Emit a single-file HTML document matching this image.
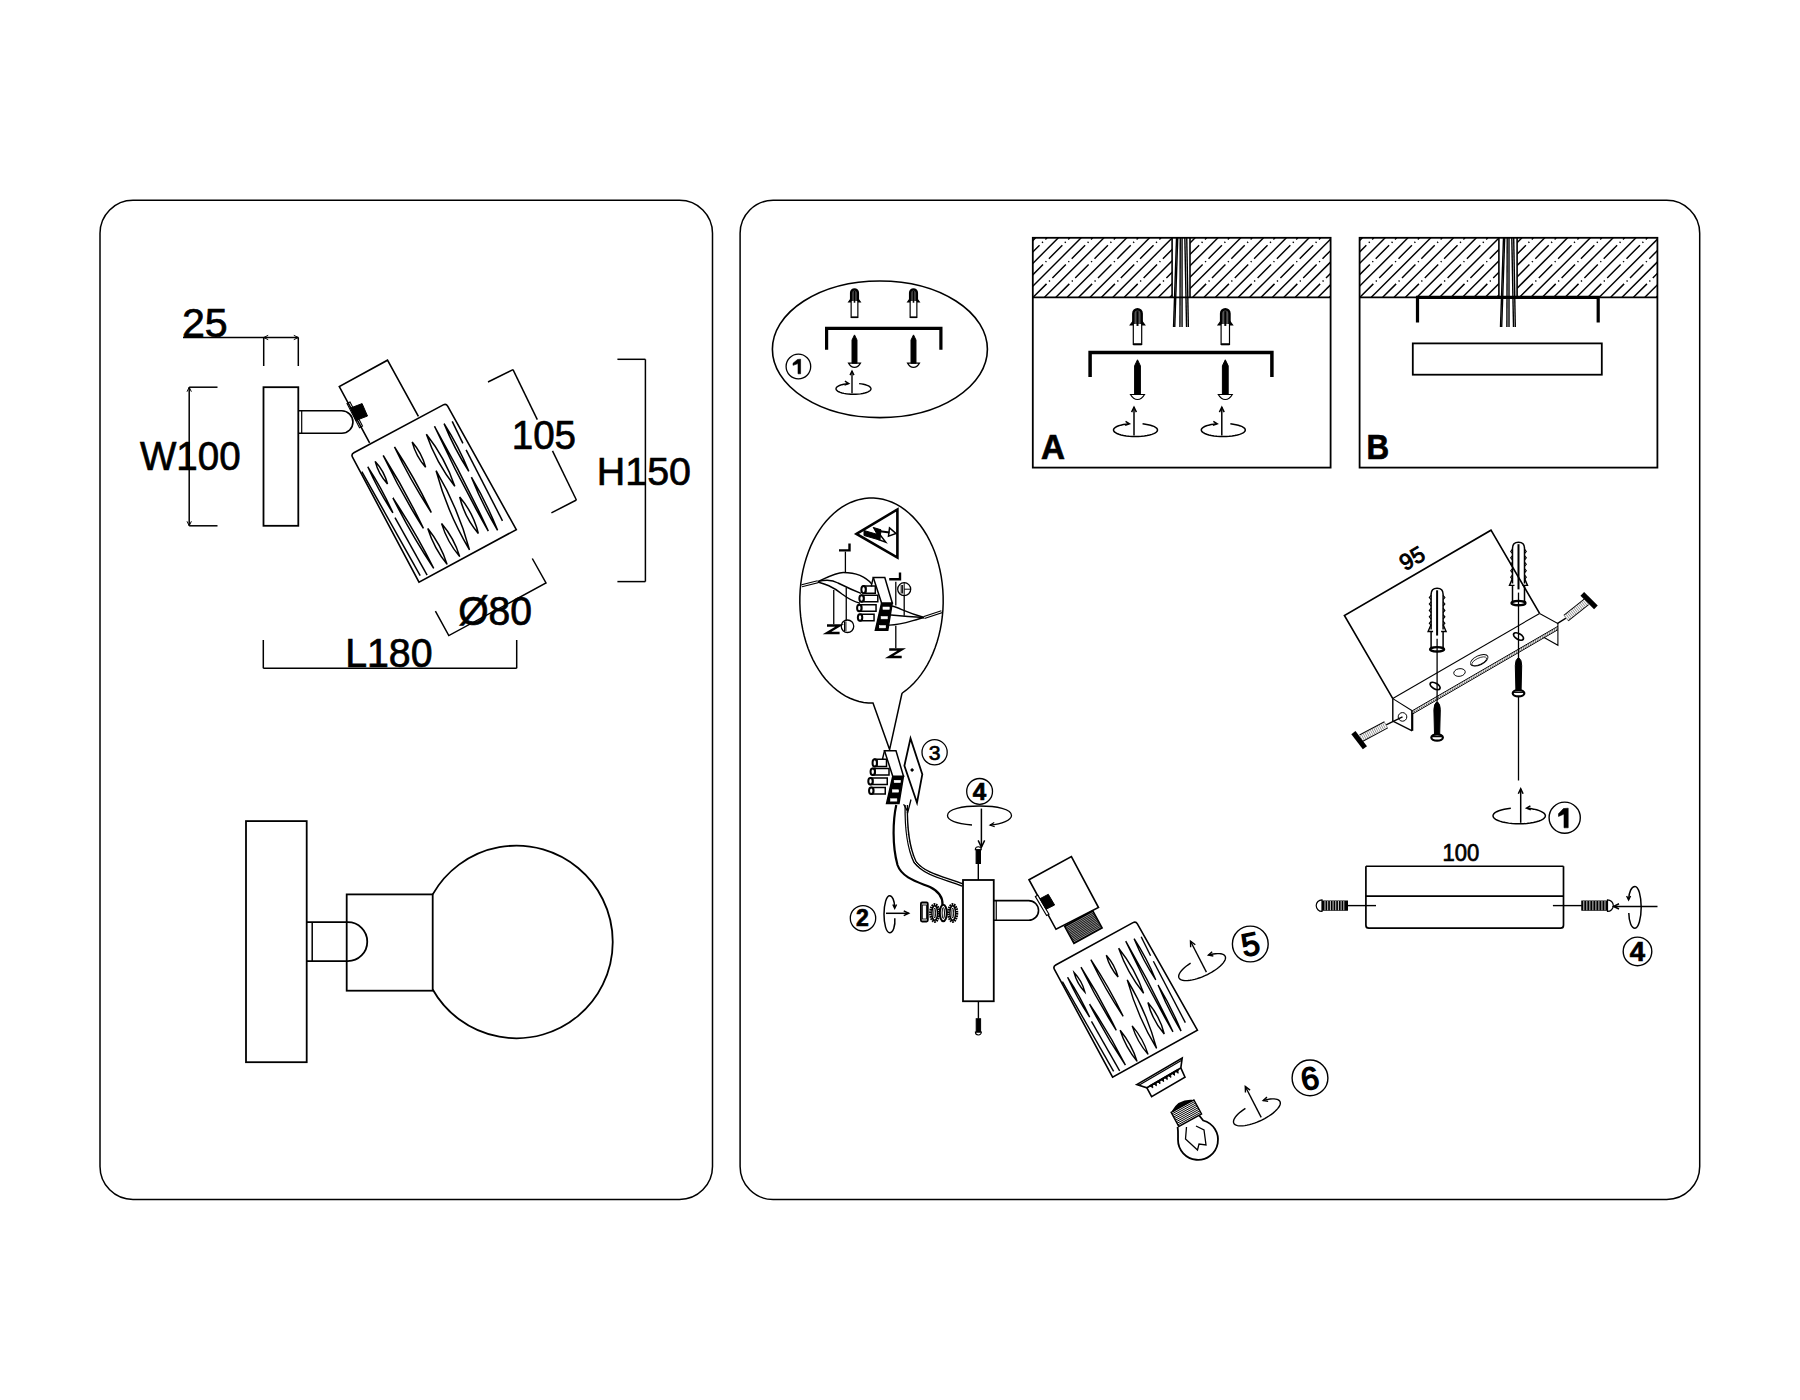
<!DOCTYPE html>
<html><head><meta charset="utf-8"><style>
html,body{margin:0;padding:0;background:#fff;}
body{width:1800px;height:1400px;overflow:hidden;}
svg{display:block;font-family:"Liberation Sans",sans-serif;}
</style></head><body>
<svg width="1800" height="1400" viewBox="0 0 1800 1400" stroke="#000" fill="none" stroke-linecap="butt" stroke-linejoin="miter">
<rect x="100" y="200.3" width="612.5" height="999.2" rx="33" stroke-width="1.5" fill="none" />
<rect x="740.1" y="200.3" width="959.6" height="999.2" rx="33" stroke-width="1.5" fill="none" />
<line x1="183" y1="337.5" x2="298.3" y2="337.5" stroke-width="1.5" />
<line x1="263.7" y1="337.5" x2="263.7" y2="366" stroke-width="1.5" />
<line x1="298.3" y1="337.5" x2="298.3" y2="366" stroke-width="1.5" />
<path d="M268.2,335.33 L263.7,337.5 L268.2,339.67" stroke-width="1" fill="none" />
<path d="M293.8,339.67 L298.3,337.5 L293.8,335.33" stroke-width="1" fill="none" />
<text x="0" y="0" font-family="Liberation Sans" font-size="100" font-weight="normal" stroke="#000" stroke-width="1.714" fill="#000" transform="matrix(0.4118,0,0,0.4085,181.94,336.59)">25</text>
<line x1="189.2" y1="387.2" x2="189.2" y2="525.8" stroke-width="1.5" />
<line x1="189.2" y1="387.2" x2="217.5" y2="387.2" stroke-width="1.5" />
<line x1="189.2" y1="525.8" x2="217.5" y2="525.8" stroke-width="1.5" />
<path d="M191.37,391.7 L189.2,387.2 L187.03,391.7" stroke-width="1" fill="none" />
<path d="M187.03,521.3 L189.2,525.8 L191.37,521.3" stroke-width="1" fill="none" />
<text x="0" y="0" font-family="Liberation Sans" font-size="100" font-weight="normal" stroke="#000" stroke-width="1.726" fill="#000" transform="matrix(0.3855,0,0,0.4056,139.91,470.39)">W100</text>
<rect x="263.5" y="387.2" width="34.8" height="138.6" rx="0" stroke-width="1.8" fill="none" />
<path d="M298.3,410.8 H341.7 A11.25,11.25 0 0 1 341.7,433.3 H298.3" stroke-width="1.6" fill="none" />
<line x1="301.7" y1="410.8" x2="301.7" y2="433.3" stroke-width="1.2" />
<polyline points="369.6,442.9 339.3,386.6 387.5,360.2 418.4,416.4" stroke-width="1.6" fill="none" />
<path d="M352.5,457.13 Q351,454.3 353.82,452.79 L443.28,404.91 Q446.1,403.4 447.66,406.2 L516.3,529.6 L419,582.2 Z" stroke-width="1.6" fill="#fff" />
<line x1="361.8" y1="471.6" x2="420.2" y2="575.6" stroke-width="1.5" />
<path d="M367.8,466.8 Q378.51,490.85 392.9,512.9 Q382.19,488.85 367.8,466.8Z" stroke-width="1.5" fill="none" />
<path d="M375.2,461.4 Q378.45,474.23 387.5,483.9 Q384.25,471.07 375.2,461.4Z" stroke-width="1.5" fill="none" />
<path d="M383.2,455.5 Q401.11,493.16 423.4,528.4 Q405.49,490.74 383.2,455.5Z" stroke-width="1.5" fill="none" />
<path d="M394.5,447 Q410.72,480.97 431.3,512.5 Q415.08,478.53 394.5,447Z" stroke-width="1.5" fill="none" />
<path d="M412.2,442.1 Q415.99,456.25 425.6,467.3 Q421.81,453.15 412.2,442.1Z" stroke-width="1.5" fill="none" />
<path d="M426.4,434.3 Q436.12,462.74 454.8,486.3 Q445.08,457.86 426.4,434.3Z" stroke-width="1.5" fill="none" />
<path d="M436.1,470.7 Q447.36,512.59 469.5,549.9 Q458.24,508.01 436.1,470.7Z" stroke-width="1.5" fill="none" />
<path d="M392.9,497.9 Q411.14,534.4 433.7,568.4 Q415.46,531.9 392.9,497.9Z" stroke-width="1.5" fill="none" />
<line x1="395" y1="517.7" x2="427.1" y2="575.1" stroke-width="1.5" />
<path d="M427.8,528.5 Q434.01,548.3 447.1,564.4 Q440.89,544.6 427.8,528.5Z" stroke-width="1.5" fill="none" />
<path d="M434.5,426.3 Q459.18,479.84 488.3,531.1 Q463.62,477.56 434.5,426.3Z" stroke-width="1.5" fill="none" />
<path d="M444.1,423.6 Q454.23,448.6 468.8,471.3 Q458.67,446.3 444.1,423.6Z" stroke-width="1.5" fill="none" />
<line x1="452.2" y1="421.4" x2="462.9" y2="443.4" stroke-width="1.5" />
<line x1="466.1" y1="449.8" x2="502.5" y2="520.8" stroke-width="1.5" />
<path d="M471.4,477.2 Q482.44,504.77 497.6,530.3 Q486.56,502.73 471.4,477.2Z" stroke-width="1.5" fill="none" />
<path d="M459.7,497 Q464.64,517.43 478.3,533.4 Q473.36,512.97 459.7,497Z" stroke-width="1.5" fill="none" />
<path d="M441.6,523.6 Q447.23,541.98 459.7,556.6 Q454.07,538.22 441.6,523.6Z" stroke-width="1.5" fill="none" />
<path d="M350.5,408 L362.1,403.6 L367.5,416 L355.9,420.5 Z" stroke-width="1" fill="#000" />
<polygon points="347,403.6 350,402 362.5,426 359.5,427.7" stroke-width="1.1" fill="none" />
<line x1="488" y1="382" x2="513" y2="369.6" stroke-width="1.5" />
<line x1="513" y1="369.6" x2="537.3" y2="419.6" stroke-width="1.5" />
<line x1="552.5" y1="450.9" x2="576.4" y2="500" stroke-width="1.5" />
<line x1="576.4" y1="500" x2="551.4" y2="512.9" stroke-width="1.5" />
<text x="0" y="0" font-family="Liberation Sans" font-size="100" font-weight="normal" stroke="#000" stroke-width="1.744" fill="#000" transform="matrix(0.3858,0,0,0.4014,511.71,448.60)">105</text>
<line x1="645.4" y1="359.3" x2="645.4" y2="581.6" stroke-width="1.5" />
<line x1="617.4" y1="359.3" x2="645.4" y2="359.3" stroke-width="1.5" />
<line x1="617.4" y1="581.6" x2="645.4" y2="581.6" stroke-width="1.5" />
<text x="0" y="0" font-family="Liberation Sans" font-size="100" font-weight="normal" stroke="#000" stroke-width="1.762" fill="#000" transform="matrix(0.3938,0,0,0.3972,596.85,484.80)">H150</text>
<polyline points="435.4,611.2 448.8,635.6 546,583 532.3,558.5" stroke-width="1.5" fill="none" />
<text x="0" y="0" font-family="Liberation Sans" font-size="100" font-weight="normal" stroke="#000" stroke-width="1.756" fill="#000" transform="matrix(0.3906,0,0,0.3986,458.24,624.50)">Ø80</text>
<line x1="263.3" y1="668.3" x2="516.7" y2="668.3" stroke-width="1.5" />
<line x1="263.3" y1="640" x2="263.3" y2="668.3" stroke-width="1.5" />
<line x1="516.7" y1="640" x2="516.7" y2="668.3" stroke-width="1.5" />
<text x="0" y="0" font-family="Liberation Sans" font-size="100" font-weight="normal" stroke="#000" stroke-width="1.756" fill="#000" transform="matrix(0.3929,0,0,0.3986,345.16,667.10)">L180</text>
<rect x="246" y="821.1" width="60.7" height="241.1" rx="0" stroke-width="1.8" fill="none" />
<path d="M432.7,894.4 A96.3,96.3 0 1 1 432.7,989.5" stroke-width="1.8" fill="none" />
<rect x="346.7" y="894.4" width="86" height="96.3" rx="0" stroke-width="1.8" fill="none" />
<path d="M306.7,922.2 H347.8 A19.45,19.45 0 0 1 347.8,961.1 H306.7" stroke-width="1.8" fill="none" />
<line x1="312.2" y1="922.2" x2="312.2" y2="961.1" stroke-width="1.5" />
<ellipse cx="879.9" cy="349.3" rx="107.5" ry="68.3" stroke-width="1.6" fill="none" />
<path d="M826.6,349.8 V328.4 H940.9 V349.8" stroke-width="3.2" fill="none" />
<path d="M851.14,301.12 V317.3 H857.86 V301.12" stroke-width="1.2" fill="none" />
<line x1="851.14" y1="317.3" x2="857.86" y2="317.3" stroke-width="1.6" />
<path d="M851.14,301.12 V292.76 A3.36,3.36 0 0 1 857.86,292.76 V301.12" stroke-width="2.4" fill="#555" />
<line x1="854.5" y1="291" x2="854.5" y2="302.72" stroke-width="1.6" />
<path d="M851.14,298.72 L848.74,301.92 L851.14,301.92" stroke-width="1.2" fill="#000" />
<path d="M857.86,298.72 L860.26,301.92 L857.86,301.92" stroke-width="1.2" fill="#000" />
<path d="M854.5,334.9 L856.97,340 V363.15 H852.03 V340 Z" stroke-width="1.0" fill="#000" />
<path d="M848.55,363.15 H860.45 Q858.07,367.4 854.5,367.4 Q850.93,367.4 848.55,363.15 Z" stroke-width="1.2" fill="none" />
<path d="M910.14,301.12 V317.3 H916.86 V301.12" stroke-width="1.2" fill="none" />
<line x1="910.14" y1="317.3" x2="916.86" y2="317.3" stroke-width="1.6" />
<path d="M910.14,301.12 V292.76 A3.36,3.36 0 0 1 916.86,292.76 V301.12" stroke-width="2.4" fill="#555" />
<line x1="913.5" y1="291" x2="913.5" y2="302.72" stroke-width="1.6" />
<path d="M910.14,298.72 L907.74,301.92 L910.14,301.92" stroke-width="1.2" fill="#000" />
<path d="M916.86,298.72 L919.26,301.92 L916.86,301.92" stroke-width="1.2" fill="#000" />
<path d="M913.5,334.9 L915.97,340 V363.15 H911.03 V340 Z" stroke-width="1.0" fill="#000" />
<path d="M907.55,363.15 H919.45 Q917.07,367.4 913.5,367.4 Q909.93,367.4 907.55,363.15 Z" stroke-width="1.2" fill="none" />
<circle cx="798.4" cy="366.5" r="12.3" stroke-width="1.3" fill="none" />
<polygon points="800.6,359.2 800.6,373.8 798,373.8 798,363.58 793,365.33 793,363.29 797.5,359.49" stroke-width="0.6" fill="#000" />
<polyline points="859.1,383.59 861.38,383.89 863.5,384.29 865.42,384.77 867.11,385.34 868.52,385.98 869.64,386.67 870.43,387.41 870.89,388.17 870.99,388.95 870.75,389.72 870.17,390.47 869.25,391.2 868.02,391.87 866.5,392.48 864.72,393.02 862.72,393.48 860.53,393.84 858.2,394.1 855.78,394.25 853.32,394.3 850.85,394.24 848.44,394.07 846.13,393.79 843.97,393.41 842,392.95 840.26,392.39 838.78,391.77 837.59,391.09 836.72,390.36 836.19,389.61 836,388.83 836.16,388.06 836.67,387.3 837.51,386.57 838.67,385.88 840.12,385.25 841.85,384.7 843.8,384.22 845.95,383.84 848.25,383.55" stroke-width="1.4" fill="none" />
<path d="M844.52,385.1 L848.75,383.55 L844.91,381.2" stroke-width="1.4" fill="none" />
<line x1="852" y1="393.3" x2="852" y2="371.1" stroke-width="1.4" />
<path d="M853.96,375.15 L852,371.1 L850.04,375.15" stroke-width="1.4" fill="none" />
<rect x="1032.8" y="237.8" width="297.8" height="229.8" rx="0" stroke-width="1.8" fill="none" />
<clipPath id="ca"><path d="M1032.8,237.8 H1172.1 V297.3 H1032.8 Z M1190,237.8 H1330.6 V297.3 H1190 Z"/></clipPath>
<g clip-path="url(#ca)"><line x1="953.3" y1="297.3" x2="1012.8" y2="237.8" stroke-width="1.45"/><line x1="964.7" y1="297.3" x2="1024.2" y2="237.8" stroke-width="1.45" stroke-dasharray="19 3.5 1.3 3.5"/><line x1="976.1" y1="297.3" x2="1035.6" y2="237.8" stroke-width="1.45"/><line x1="987.5" y1="297.3" x2="1047" y2="237.8" stroke-width="1.45" stroke-dasharray="19 3.5 1.3 3.5"/><line x1="998.9" y1="297.3" x2="1058.4" y2="237.8" stroke-width="1.45"/><line x1="1010.3" y1="297.3" x2="1069.8" y2="237.8" stroke-width="1.45" stroke-dasharray="19 3.5 1.3 3.5"/><line x1="1021.7" y1="297.3" x2="1081.2" y2="237.8" stroke-width="1.45"/><line x1="1033.1" y1="297.3" x2="1092.6" y2="237.8" stroke-width="1.45" stroke-dasharray="19 3.5 1.3 3.5"/><line x1="1044.5" y1="297.3" x2="1104" y2="237.8" stroke-width="1.45"/><line x1="1055.9" y1="297.3" x2="1115.4" y2="237.8" stroke-width="1.45" stroke-dasharray="19 3.5 1.3 3.5"/><line x1="1067.3" y1="297.3" x2="1126.8" y2="237.8" stroke-width="1.45"/><line x1="1078.7" y1="297.3" x2="1138.2" y2="237.8" stroke-width="1.45" stroke-dasharray="19 3.5 1.3 3.5"/><line x1="1090.1" y1="297.3" x2="1149.6" y2="237.8" stroke-width="1.45"/><line x1="1101.5" y1="297.3" x2="1161" y2="237.8" stroke-width="1.45" stroke-dasharray="19 3.5 1.3 3.5"/><line x1="1112.9" y1="297.3" x2="1172.4" y2="237.8" stroke-width="1.45"/><line x1="1124.3" y1="297.3" x2="1183.8" y2="237.8" stroke-width="1.45" stroke-dasharray="19 3.5 1.3 3.5"/><line x1="1135.7" y1="297.3" x2="1195.2" y2="237.8" stroke-width="1.45"/><line x1="1147.1" y1="297.3" x2="1206.6" y2="237.8" stroke-width="1.45" stroke-dasharray="19 3.5 1.3 3.5"/><line x1="1158.5" y1="297.3" x2="1218" y2="237.8" stroke-width="1.45"/><line x1="1169.9" y1="297.3" x2="1229.4" y2="237.8" stroke-width="1.45" stroke-dasharray="19 3.5 1.3 3.5"/><line x1="1181.3" y1="297.3" x2="1240.8" y2="237.8" stroke-width="1.45"/><line x1="1192.7" y1="297.3" x2="1252.2" y2="237.8" stroke-width="1.45" stroke-dasharray="19 3.5 1.3 3.5"/><line x1="1204.1" y1="297.3" x2="1263.6" y2="237.8" stroke-width="1.45"/><line x1="1215.5" y1="297.3" x2="1275" y2="237.8" stroke-width="1.45" stroke-dasharray="19 3.5 1.3 3.5"/><line x1="1226.9" y1="297.3" x2="1286.4" y2="237.8" stroke-width="1.45"/><line x1="1238.3" y1="297.3" x2="1297.8" y2="237.8" stroke-width="1.45" stroke-dasharray="19 3.5 1.3 3.5"/><line x1="1249.7" y1="297.3" x2="1309.2" y2="237.8" stroke-width="1.45"/><line x1="1261.1" y1="297.3" x2="1320.6" y2="237.8" stroke-width="1.45" stroke-dasharray="19 3.5 1.3 3.5"/><line x1="1272.5" y1="297.3" x2="1332" y2="237.8" stroke-width="1.45"/><line x1="1283.9" y1="297.3" x2="1343.4" y2="237.8" stroke-width="1.45" stroke-dasharray="19 3.5 1.3 3.5"/><line x1="1295.3" y1="297.3" x2="1354.8" y2="237.8" stroke-width="1.45"/><line x1="1306.7" y1="297.3" x2="1366.2" y2="237.8" stroke-width="1.45" stroke-dasharray="19 3.5 1.3 3.5"/><line x1="1318.1" y1="297.3" x2="1377.6" y2="237.8" stroke-width="1.45"/><line x1="1329.5" y1="297.3" x2="1389" y2="237.8" stroke-width="1.45" stroke-dasharray="19 3.5 1.3 3.5"/><line x1="1340.9" y1="297.3" x2="1400.4" y2="237.8" stroke-width="1.45"/></g>
<line x1="1172.1" y1="237.8" x2="1172.1" y2="297.3" stroke-width="1.6" />
<line x1="1190" y1="237.8" x2="1190" y2="297.3" stroke-width="1.6" />
<line x1="1032.8" y1="297.3" x2="1330.6" y2="297.3" stroke-width="1.8" />
<line x1="1176.55" y1="237.8" x2="1173.55" y2="327" stroke-width="1.4" />
<line x1="1177.75" y1="237.8" x2="1174.75" y2="327" stroke-width="1.4" />
<line x1="1180.25" y1="237.8" x2="1179.95" y2="327" stroke-width="1.4" />
<line x1="1182.05" y1="237.8" x2="1182.05" y2="327" stroke-width="1.4" />
<line x1="1184.85" y1="237.8" x2="1186.55" y2="327" stroke-width="1.4" />
<line x1="1186.75" y1="237.8" x2="1188.35" y2="327" stroke-width="1.4" />
<path d="M1090.1,377.1 V352.5 H1271.9 V377.1" stroke-width="3.5" fill="none" />
<path d="M1133.3,323.94 V344.3 H1141.7 V323.94" stroke-width="1.2" fill="none" />
<line x1="1133.3" y1="344.3" x2="1141.7" y2="344.3" stroke-width="2.0" />
<path d="M1133.3,323.94 V313.4 A4.2,4.2 0 0 1 1141.7,313.4 V323.94" stroke-width="2.4" fill="#555" />
<line x1="1137.5" y1="311.2" x2="1137.5" y2="325.94" stroke-width="2.0" />
<path d="M1133.3,320.94 L1130.3,324.94 L1133.3,324.94" stroke-width="1.2" fill="#000" />
<path d="M1141.7,320.94 L1144.7,324.94 L1141.7,324.94" stroke-width="1.2" fill="#000" />
<path d="M1137.5,359.8 L1140.4,365.8 V394.5 H1134.6 V365.8 Z" stroke-width="1.0" fill="#000" />
<path d="M1130.5,394.5 H1144.5 Q1141.7,399.5 1137.5,399.5 Q1133.3,399.5 1130.5,394.5 Z" stroke-width="1.2" fill="none" />
<polyline points="1142.54,423.84 1145.41,424.2 1148.07,424.67 1150.49,425.24 1152.61,425.91 1154.39,426.67 1155.79,427.49 1156.78,428.36 1157.36,429.26 1157.49,430.17 1157.19,431.09 1156.46,431.98 1155.3,432.83 1153.76,433.63 1151.84,434.35 1149.61,434.99 1147.09,435.53 1144.34,435.95 1141.41,436.26 1138.37,436.44 1135.27,436.5 1132.17,436.43 1129.14,436.22 1126.24,435.9 1123.52,435.45 1121.04,434.9 1118.85,434.25 1116.99,433.51 1115.5,432.71 1114.41,431.85 1113.74,430.95 1113.5,430.04 1113.7,429.12 1114.34,428.22 1115.4,427.36 1116.85,426.55 1118.69,425.81 1120.85,425.15 1123.31,424.59 1126.01,424.14 1128.9,423.8" stroke-width="1.5" fill="none" />
<path d="M1125.17,425.34 L1129.4,423.8 L1125.56,421.45" stroke-width="1.5" fill="none" />
<line x1="1134" y1="435.5" x2="1134" y2="407.1" stroke-width="1.5" />
<path d="M1136.39,412.05 L1134,407.1 L1131.61,412.05" stroke-width="1.5" fill="none" />
<path d="M1221.1,323.94 V344.3 H1229.5 V323.94" stroke-width="1.2" fill="none" />
<line x1="1221.1" y1="344.3" x2="1229.5" y2="344.3" stroke-width="2.0" />
<path d="M1221.1,323.94 V313.4 A4.2,4.2 0 0 1 1229.5,313.4 V323.94" stroke-width="2.4" fill="#555" />
<line x1="1225.3" y1="311.2" x2="1225.3" y2="325.94" stroke-width="2.0" />
<path d="M1221.1,320.94 L1218.1,324.94 L1221.1,324.94" stroke-width="1.2" fill="#000" />
<path d="M1229.5,320.94 L1232.5,324.94 L1229.5,324.94" stroke-width="1.2" fill="#000" />
<path d="M1225.3,359.8 L1228.2,365.8 V394.5 H1222.4 V365.8 Z" stroke-width="1.0" fill="#000" />
<path d="M1218.3,394.5 H1232.3 Q1229.5,399.5 1225.3,399.5 Q1221.1,399.5 1218.3,394.5 Z" stroke-width="1.2" fill="none" />
<polyline points="1230.34,423.84 1233.21,424.2 1235.87,424.67 1238.29,425.24 1240.41,425.91 1242.19,426.67 1243.59,427.49 1244.58,428.36 1245.16,429.26 1245.29,430.17 1244.99,431.09 1244.26,431.98 1243.1,432.83 1241.56,433.63 1239.64,434.35 1237.41,434.99 1234.89,435.53 1232.14,435.95 1229.21,436.26 1226.17,436.44 1223.07,436.5 1219.97,436.43 1216.94,436.22 1214.04,435.9 1211.32,435.45 1208.84,434.9 1206.65,434.25 1204.79,433.51 1203.3,432.71 1202.21,431.85 1201.54,430.95 1201.3,430.04 1201.5,429.12 1202.14,428.22 1203.2,427.36 1204.65,426.55 1206.49,425.81 1208.65,425.15 1211.11,424.59 1213.81,424.14 1216.7,423.8" stroke-width="1.5" fill="none" />
<path d="M1212.97,425.34 L1217.2,423.8 L1213.36,421.45" stroke-width="1.5" fill="none" />
<line x1="1221.8" y1="435.5" x2="1221.8" y2="407.1" stroke-width="1.5" />
<path d="M1224.19,412.05 L1221.8,407.1 L1219.41,412.05" stroke-width="1.5" fill="none" />
<text x="0" y="0" font-family="Liberation Sans" font-size="100" font-weight="bold" stroke="#000" stroke-width="1.983" fill="#000" transform="matrix(0.3318,0,0,0.3529,1041.00,459.25)">A</text>
<rect x="1359.6" y="237.8" width="297.8" height="229.8" rx="0" stroke-width="1.8" fill="none" />
<clipPath id="cb"><path d="M1359.6,237.8 H1498.9 V297.3 H1359.6 Z M1517.1,237.8 H1657.4 V297.3 H1517.1 Z"/></clipPath>
<g clip-path="url(#cb)"><line x1="1280.1" y1="297.3" x2="1339.6" y2="237.8" stroke-width="1.45"/><line x1="1291.5" y1="297.3" x2="1351" y2="237.8" stroke-width="1.45" stroke-dasharray="19 3.5 1.3 3.5"/><line x1="1302.9" y1="297.3" x2="1362.4" y2="237.8" stroke-width="1.45"/><line x1="1314.3" y1="297.3" x2="1373.8" y2="237.8" stroke-width="1.45" stroke-dasharray="19 3.5 1.3 3.5"/><line x1="1325.7" y1="297.3" x2="1385.2" y2="237.8" stroke-width="1.45"/><line x1="1337.1" y1="297.3" x2="1396.6" y2="237.8" stroke-width="1.45" stroke-dasharray="19 3.5 1.3 3.5"/><line x1="1348.5" y1="297.3" x2="1408" y2="237.8" stroke-width="1.45"/><line x1="1359.9" y1="297.3" x2="1419.4" y2="237.8" stroke-width="1.45" stroke-dasharray="19 3.5 1.3 3.5"/><line x1="1371.3" y1="297.3" x2="1430.8" y2="237.8" stroke-width="1.45"/><line x1="1382.7" y1="297.3" x2="1442.2" y2="237.8" stroke-width="1.45" stroke-dasharray="19 3.5 1.3 3.5"/><line x1="1394.1" y1="297.3" x2="1453.6" y2="237.8" stroke-width="1.45"/><line x1="1405.5" y1="297.3" x2="1465" y2="237.8" stroke-width="1.45" stroke-dasharray="19 3.5 1.3 3.5"/><line x1="1416.9" y1="297.3" x2="1476.4" y2="237.8" stroke-width="1.45"/><line x1="1428.3" y1="297.3" x2="1487.8" y2="237.8" stroke-width="1.45" stroke-dasharray="19 3.5 1.3 3.5"/><line x1="1439.7" y1="297.3" x2="1499.2" y2="237.8" stroke-width="1.45"/><line x1="1451.1" y1="297.3" x2="1510.6" y2="237.8" stroke-width="1.45" stroke-dasharray="19 3.5 1.3 3.5"/><line x1="1462.5" y1="297.3" x2="1522" y2="237.8" stroke-width="1.45"/><line x1="1473.9" y1="297.3" x2="1533.4" y2="237.8" stroke-width="1.45" stroke-dasharray="19 3.5 1.3 3.5"/><line x1="1485.3" y1="297.3" x2="1544.8" y2="237.8" stroke-width="1.45"/><line x1="1496.7" y1="297.3" x2="1556.2" y2="237.8" stroke-width="1.45" stroke-dasharray="19 3.5 1.3 3.5"/><line x1="1508.1" y1="297.3" x2="1567.6" y2="237.8" stroke-width="1.45"/><line x1="1519.5" y1="297.3" x2="1579" y2="237.8" stroke-width="1.45" stroke-dasharray="19 3.5 1.3 3.5"/><line x1="1530.9" y1="297.3" x2="1590.4" y2="237.8" stroke-width="1.45"/><line x1="1542.3" y1="297.3" x2="1601.8" y2="237.8" stroke-width="1.45" stroke-dasharray="19 3.5 1.3 3.5"/><line x1="1553.7" y1="297.3" x2="1613.2" y2="237.8" stroke-width="1.45"/><line x1="1565.1" y1="297.3" x2="1624.6" y2="237.8" stroke-width="1.45" stroke-dasharray="19 3.5 1.3 3.5"/><line x1="1576.5" y1="297.3" x2="1636" y2="237.8" stroke-width="1.45"/><line x1="1587.9" y1="297.3" x2="1647.4" y2="237.8" stroke-width="1.45" stroke-dasharray="19 3.5 1.3 3.5"/><line x1="1599.3" y1="297.3" x2="1658.8" y2="237.8" stroke-width="1.45"/><line x1="1610.7" y1="297.3" x2="1670.2" y2="237.8" stroke-width="1.45" stroke-dasharray="19 3.5 1.3 3.5"/><line x1="1622.1" y1="297.3" x2="1681.6" y2="237.8" stroke-width="1.45"/><line x1="1633.5" y1="297.3" x2="1693" y2="237.8" stroke-width="1.45" stroke-dasharray="19 3.5 1.3 3.5"/><line x1="1644.9" y1="297.3" x2="1704.4" y2="237.8" stroke-width="1.45"/><line x1="1656.3" y1="297.3" x2="1715.8" y2="237.8" stroke-width="1.45" stroke-dasharray="19 3.5 1.3 3.5"/><line x1="1667.7" y1="297.3" x2="1727.2" y2="237.8" stroke-width="1.45"/></g>
<line x1="1498.9" y1="237.8" x2="1498.9" y2="297.3" stroke-width="1.6" />
<line x1="1517.1" y1="237.8" x2="1517.1" y2="297.3" stroke-width="1.6" />
<line x1="1359.6" y1="297.3" x2="1657.4" y2="297.3" stroke-width="1.8" />
<line x1="1503.5" y1="237.8" x2="1500.5" y2="327" stroke-width="1.4" />
<line x1="1504.7" y1="237.8" x2="1501.7" y2="327" stroke-width="1.4" />
<line x1="1507.2" y1="237.8" x2="1506.9" y2="327" stroke-width="1.4" />
<line x1="1509" y1="237.8" x2="1509" y2="327" stroke-width="1.4" />
<line x1="1511.8" y1="237.8" x2="1513.5" y2="327" stroke-width="1.4" />
<line x1="1513.7" y1="237.8" x2="1515.3" y2="327" stroke-width="1.4" />
<path d="M1417.5,322.4 V297.3 H1598.2 V322.4" stroke-width="3.2" fill="none" />
<rect x="1412.8" y="343.4" width="189" height="31.3" rx="0" stroke-width="1.8" fill="none" />
<text x="0" y="0" font-family="Liberation Sans" font-size="100" font-weight="bold" stroke="#000" stroke-width="2.012" fill="#000" transform="matrix(0.3131,0,0,0.3478,1366.51,458.90)">B</text>
<polyline points="902,693.26 906.16,690.23 910.17,686.81 914.02,683.03 917.69,678.89 921.17,674.43 924.43,669.65 927.46,664.57 930.26,659.23 932.81,653.63 935.1,647.81 937.13,641.79 938.87,635.59 940.32,629.25 941.49,622.78 942.35,616.22 942.92,609.59 943.18,602.92 943.14,596.24 942.79,589.58 942.14,582.97 941.2,576.43 939.95,570 938.42,563.69 936.6,557.54 934.5,551.57 932.14,545.81 929.52,540.28 926.65,535 923.55,530.01 920.23,525.31 916.7,520.94 912.98,516.9 909.09,513.21 905.03,509.9 900.83,506.97 896.51,504.44 892.08,502.31 887.57,500.61 882.98,499.32 878.35,498.47 873.69,498.05 869.02,498.06 864.35,498.51 859.72,499.39 855.14,500.7 850.63,502.44 846.21,504.59 841.89,507.15 837.71,510.1 833.66,513.44 829.77,517.15 826.07,521.21 822.55,525.6 819.24,530.32 816.16,535.33 813.31,540.62 810.7,546.17 808.36,551.94 806.28,557.92 804.48,564.09 802.96,570.4 801.74,576.85 800.81,583.39 800.18,590.01 799.85,596.67 799.83,603.35 800.11,610.01 800.69,616.64 801.58,623.2 802.76,629.66 804.24,635.99 806,642.18 808.03,648.19 810.34,654 812.91,659.58 815.72,664.91 818.77,669.96 822.05,674.72 825.54,679.17 829.22,683.28 833.08,687.04 837.1,690.43 841.27,693.44 845.57,696.06 849.98,698.27 854.48,700.07 859.05,701.44 863.67,702.39 868.33,702.9 873,702.98 889.6,749.6 902,693.26" stroke-width="1.5" fill="none" />
<polygon points="856.5,533.9 897.4,509.5 897.4,557.6" stroke-width="2.6" fill="none" />
<polygon points="856.5,533.9 897.4,509.5 897.4,557.6" stroke-width="0.1" fill="none" />
<path d="M864,530.5 L879.5,535 L879.5,540 L864,535.5 Z" stroke-width="1.0" fill="#000" />
<path d="M873.2,527.4 L881,529.8 L880,539.5 Z" stroke-width="1.0" fill="#000" />
<path d="M879.5,534 L885.8,542.3 L878.5,539.5" stroke-width="1.4" fill="none" />
<line x1="880" y1="531.2" x2="889.5" y2="532.5" stroke-width="2.0" />
<path d="M889.5,527.9 L896,533.4 L888.5,536.2 Z" stroke-width="1.5" fill="none" />
<path d="M801.7,585.8 L817.9,581.7" stroke-width="3.2" fill="none" />
<path d="M801.7,585.8 L817.9,581.7" stroke-width="1.0" fill="none" stroke="#fff"/>
<path d="M817.9,581.7 C828,577 836,572.5 843.3,572.5 C856,572.5 866,577 872,584.2" stroke-width="1.4" fill="none" />
<path d="M817.9,581.7 C824,580 831,579 838,583 C848,588 855,591 861,593.3" stroke-width="1.4" fill="none" />
<path d="M817.9,582 C825,584 832,586 842,594 C850,600 855,602 860,603.3" stroke-width="1.4" fill="none" />
<line x1="845.4" y1="551.6" x2="845.4" y2="572.5" stroke-width="1.3" />
<path d="M839,550.4 H849.5 V543.6" stroke-width="2.4" fill="none" />
<line x1="833.75" y1="590" x2="833.75" y2="624.2" stroke-width="1.3" />
<path d="M827,625.5 H839.6 L827,633 H839.6" stroke-width="2.4" fill="none" />
<line x1="846.25" y1="587.5" x2="846.25" y2="620" stroke-width="1.3" />
<circle cx="847.5" cy="626.25" r="6.25" stroke-width="1.3" fill="none" />
<line x1="844.5" y1="621.5" x2="844.5" y2="631" stroke-width="1.0" />
<line x1="845.9" y1="621.5" x2="845.9" y2="631" stroke-width="1.0" />
<polygon points="881.55,603 892.3,603 887.8,630.25 875.3,630.25" stroke-width="1.4" fill="#000" />
<rect x="882.94" y="607" width="6.4" height="2.4" rx="0" stroke-width="0.5" fill="#fff" stroke="#fff"/>
<rect x="881.07" y="616.5" width="6.4" height="2.4" rx="0" stroke-width="0.5" fill="#fff" stroke="#fff"/>
<rect x="879.29" y="625.5" width="6.4" height="2.4" rx="0" stroke-width="0.5" fill="#fff" stroke="#fff"/>
<rect x="863.55" y="586" width="11.75" height="7.25" rx="0" stroke-width="1.5" fill="#fff" />
<ellipse cx="863.55" cy="589.62" rx="2.2" ry="3.62" stroke-width="2.0" fill="#fff" />
<line x1="866.05" y1="586.5" x2="866.05" y2="592.75" stroke-width="1.0" />
<rect x="861.55" y="595.25" width="16.25" height="6.5" rx="0" stroke-width="1.5" fill="#fff" />
<ellipse cx="861.55" cy="598.5" rx="2.2" ry="3.25" stroke-width="2.0" fill="#fff" />
<line x1="864.05" y1="595.75" x2="864.05" y2="601.25" stroke-width="1.0" />
<rect x="859.3" y="604.75" width="16.75" height="6.5" rx="0" stroke-width="1.5" fill="#fff" />
<ellipse cx="859.3" cy="608" rx="2.2" ry="3.25" stroke-width="2.0" fill="#fff" />
<line x1="861.8" y1="605.25" x2="861.8" y2="610.75" stroke-width="1.0" />
<rect x="860.05" y="614.25" width="14" height="6.5" rx="0" stroke-width="1.5" fill="#fff" />
<ellipse cx="860.05" cy="617.5" rx="2.2" ry="3.25" stroke-width="2.0" fill="#fff" />
<line x1="862.55" y1="614.75" x2="862.55" y2="620.25" stroke-width="1.0" />
<polygon points="873.3,577.5 884.8,577.5 892.3,603 881.55,603" stroke-width="1.5" fill="#fff" />
<polyline points="873.3,577.5 871.3,585.75 872.3,586" stroke-width="1.4" fill="none" />
<path d="M892,606 C900,608 905,612 924.2,617.5" stroke-width="1.4" fill="none" />
<path d="M891,615 C900,616 910,617 924.2,617.5" stroke-width="1.4" fill="none" />
<path d="M887,625 C900,626 910,621 924.2,617.5" stroke-width="1.4" fill="none" />
<path d="M924.2,617.5 L941.7,611.7" stroke-width="3.2" fill="none" />
<path d="M924.2,617.5 L941.7,611.7" stroke-width="1.0" fill="none" stroke="#fff"/>
<line x1="895.8" y1="581.7" x2="895.8" y2="605.4" stroke-width="1.3" />
<path d="M889.2,579.2 H900 V572.5" stroke-width="2.4" fill="none" />
<line x1="904.2" y1="595.5" x2="904.2" y2="615.8" stroke-width="1.3" />
<circle cx="904.2" cy="589.2" r="6.5" stroke-width="1.3" fill="none" />
<line x1="904.2" y1="582.7" x2="904.2" y2="595.7" stroke-width="1.0" />
<line x1="904.2" y1="589.2" x2="910.7" y2="589.2" stroke-width="1.0" />
<line x1="901.2" y1="585" x2="901.2" y2="593.5" stroke-width="1.0" />
<line x1="902.6" y1="585" x2="902.6" y2="593.5" stroke-width="1.0" />
<line x1="895.8" y1="625.8" x2="895.8" y2="648.3" stroke-width="1.3" />
<path d="M889.2,649.5 H901.7 L889.2,657 H901.7" stroke-width="2.4" fill="none" />
<polygon points="892.75,776.25 903.5,776.25 899,803.5 886.5,803.5" stroke-width="1.4" fill="#000" />
<rect x="894.14" y="780.25" width="6.4" height="2.4" rx="0" stroke-width="0.5" fill="#fff" stroke="#fff"/>
<rect x="892.27" y="789.75" width="6.4" height="2.4" rx="0" stroke-width="0.5" fill="#fff" stroke="#fff"/>
<rect x="890.49" y="798.75" width="6.4" height="2.4" rx="0" stroke-width="0.5" fill="#fff" stroke="#fff"/>
<rect x="874.75" y="759.25" width="11.75" height="7.25" rx="0" stroke-width="1.5" fill="#fff" />
<ellipse cx="874.75" cy="762.88" rx="2.2" ry="3.62" stroke-width="2.0" fill="#fff" />
<line x1="877.25" y1="759.75" x2="877.25" y2="766" stroke-width="1.0" />
<rect x="872.75" y="768.5" width="16.25" height="6.5" rx="0" stroke-width="1.5" fill="#fff" />
<ellipse cx="872.75" cy="771.75" rx="2.2" ry="3.25" stroke-width="2.0" fill="#fff" />
<line x1="875.25" y1="769" x2="875.25" y2="774.5" stroke-width="1.0" />
<rect x="870.5" y="778" width="16.75" height="6.5" rx="0" stroke-width="1.5" fill="#fff" />
<ellipse cx="870.5" cy="781.25" rx="2.2" ry="3.25" stroke-width="2.0" fill="#fff" />
<line x1="873" y1="778.5" x2="873" y2="784" stroke-width="1.0" />
<rect x="871.25" y="787.5" width="14" height="6.5" rx="0" stroke-width="1.5" fill="#fff" />
<ellipse cx="871.25" cy="790.75" rx="2.2" ry="3.25" stroke-width="2.0" fill="#fff" />
<line x1="873.75" y1="788" x2="873.75" y2="793.5" stroke-width="1.0" />
<polygon points="884.5,750.75 896,750.75 903.5,776.25 892.75,776.25" stroke-width="1.5" fill="#fff" />
<polyline points="884.5,750.75 882.5,759 883.5,759.25" stroke-width="1.4" fill="none" />
<polygon points="910.5,738.4 922.3,774.3 917,802.7 904.4,765.7" stroke-width="1.8" fill="none" />
<circle cx="912.1" cy="770" r="1.2" stroke-width="1" fill="#000" />
<circle cx="934.6" cy="752.3" r="12.6" stroke-width="1.3" fill="none" />
<text x="0" y="0" font-family="Liberation Sans" font-size="100" font-weight="normal" stroke="#000" stroke-width="3.313" fill="#000" transform="matrix(0.2113,0,0,0.2113,928.79,759.59)">3</text>
<path d="M896.25,805 C893,820 892,845 897.5,865 C902,878 918,882 930,887 C940,892 943,898 942.5,905" stroke-width="2.2" fill="none" />
<path d="M906.25,805 C906,825 907,845 915,862 C925,875 945,878 962.5,885" stroke-width="3.6" fill="none" />
<path d="M906.25,805 C906,825 907,845 915,862 C925,875 945,878 962.5,885" stroke-width="1.0" fill="none" stroke="#fff"/>
<path d="M903.6,804.3 L907.9,811.8 L911,799.5" stroke-width="1.3" fill="none" />
<rect x="920.9" y="902.5" width="6.9" height="19" rx="1.2" stroke-width="1.8" fill="none" />
<rect x="922.3" y="905" width="4.1" height="14" rx="0" stroke-width="0.9" fill="#fff" />
<ellipse cx="934.7" cy="913" rx="4.3" ry="8.6" stroke-width="2.6" fill="none" stroke-dasharray="1.6 0.7"/>
<ellipse cx="934.7" cy="913" rx="2.8" ry="7.2" stroke-width="1.4" fill="none" />
<ellipse cx="934.7" cy="913" rx="0.9" ry="5" stroke-width="0.9" fill="none" />
<ellipse cx="952.7" cy="913" rx="4.3" ry="8.6" stroke-width="2.6" fill="none" stroke-dasharray="1.6 0.7"/>
<ellipse cx="952.7" cy="913" rx="2.8" ry="7.2" stroke-width="1.4" fill="none" />
<ellipse cx="952.7" cy="913" rx="0.9" ry="5" stroke-width="0.9" fill="none" />
<ellipse cx="943.3" cy="913" rx="3.5" ry="8.3" stroke-width="2.0" fill="none" />
<ellipse cx="943.3" cy="913" rx="1.2" ry="5.5" stroke-width="1.0" fill="none" />
<circle cx="863" cy="918.3" r="12.7" stroke-width="1.3" fill="none" />
<text x="0" y="0" font-family="Liberation Sans" font-size="100" font-weight="bold" stroke="#000" stroke-width="2.988" fill="#000" transform="matrix(0.2306,0,0,0.2343,856.01,925.70)">2</text>
<path d="M894.8,918.3 C895.5,926 893,932.7 889.7,932.7 C886.2,932.7 884,924 884,914.2 C884,904 886.5,895.7 889.7,895.7 C892.5,895.7 894.5,901 894.7,907" stroke-width="1.5" fill="none" />
<path d="M892.87,904.52 L894.7,908.3 L896.53,904.52" stroke-width="1.5" fill="none" />
<line x1="886" y1="913.3" x2="908.7" y2="913.3" stroke-width="1.5" />
<path d="M903.75,915.69 L908.7,913.3 L903.75,910.91" stroke-width="1.5" fill="none" />
<circle cx="979.6" cy="791.4" r="12.9" stroke-width="1.3" fill="none" />
<text x="0" y="0" font-family="Liberation Sans" font-size="100" font-weight="bold" stroke="#000" stroke-width="2.892" fill="#000" transform="matrix(0.2420,0,0,0.2420,972.70,799.75)">4</text>
<path d="M972,825 C950,823 947.5,818 947.5,815.5 C947.5,809 962,806 979.5,806 C997,806 1011.5,809 1011.5,815.5 C1011.5,820 1002,824 990,825" stroke-width="1.3" fill="none" />
<path d="M994.26,822.39 L990,825 L994.7,826.71" stroke-width="1.2" fill="none" />
<line x1="981.4" y1="808.6" x2="981.4" y2="847.2" stroke-width="1.5" />
<path d="M978.14,840.45 L981.4,847.2 L984.66,840.45" stroke-width="1.5" fill="none" />
<path d="M975.3,849.8 A3,3 0 0 1 981.3,849.8 Z" stroke-width="1.1" fill="none" />
<rect x="976.1" y="849.8" width="4.4" height="13.7" rx="0" stroke-width="1.0" fill="#000" />
<line x1="978.3" y1="863.5" x2="978.3" y2="880" stroke-width="1.4" />
<line x1="978.4" y1="1001.25" x2="978.4" y2="1018.75" stroke-width="1.4" />
<rect x="976.2" y="1018.75" width="4.4" height="13.25" rx="0" stroke-width="1.0" fill="#000" />
<path d="M975.4,1032 A3,3 0 0 0 981.4,1032 Z" stroke-width="1.1" fill="none" />
<rect x="963" y="880" width="30.75" height="121.25" rx="0" stroke-width="1.8" fill="none" />
<path d="M993.75,900.6 H1028.7 A9.85,9.85 0 0 1 1028.7,920.3 H993.75" stroke-width="1.6" fill="none" />
<line x1="996.25" y1="900.6" x2="996.25" y2="920.3" stroke-width="1.2" />
<polygon points="1029,879.7 1071.4,856.5 1098.5,907.5 1056,929.3" stroke-width="1.6" fill="#fff" />
<polygon points="1035.4,896.6 1037.8,895.3 1049,914.3 1046.6,915.6" stroke-width="1.1" fill="#fff" />
<path d="M1040,898.7 L1048.3,894.3 L1054.6,905 L1046,909.3 Z" stroke-width="1" fill="#000" />
<polygon points="1064.5,926.3 1092.83,910.8 1102.24,927.99 1073.91,943.49" stroke-width="1.4" fill="#000" />
<line x1="1066.01" y1="927.19" x2="1092.76" y2="912.55" stroke-width="0.55" stroke="#fff"/>
<line x1="1066.74" y1="928.51" x2="1093.49" y2="913.87" stroke-width="0.55" stroke="#fff"/>
<line x1="1067.46" y1="929.83" x2="1094.21" y2="915.19" stroke-width="0.55" stroke="#fff"/>
<line x1="1068.18" y1="931.16" x2="1094.93" y2="916.52" stroke-width="0.55" stroke="#fff"/>
<line x1="1068.91" y1="932.48" x2="1095.66" y2="917.84" stroke-width="0.55" stroke="#fff"/>
<line x1="1069.63" y1="933.8" x2="1096.38" y2="919.16" stroke-width="0.55" stroke="#fff"/>
<line x1="1070.36" y1="935.12" x2="1097.1" y2="920.48" stroke-width="0.55" stroke="#fff"/>
<line x1="1071.08" y1="936.45" x2="1097.83" y2="921.81" stroke-width="0.55" stroke="#fff"/>
<line x1="1071.8" y1="937.77" x2="1098.55" y2="923.13" stroke-width="0.55" stroke="#fff"/>
<line x1="1072.53" y1="939.09" x2="1099.27" y2="924.45" stroke-width="0.55" stroke="#fff"/>
<line x1="1073.25" y1="940.41" x2="1100" y2="925.77" stroke-width="0.55" stroke="#fff"/>
<line x1="1073.97" y1="941.73" x2="1100.72" y2="927.09" stroke-width="0.55" stroke="#fff"/>
<path d="M1054.42,969.42 Q1052.9,966.6 1055.71,965.06 L1132.99,922.64 Q1135.8,921.1 1137.37,923.89 L1197.42,1030.19 L1112.6,1077.2 Z" stroke-width="1.6" fill="#fff" />
<line x1="1062.37" y1="981.54" x2="1113.63" y2="1071.44" stroke-width="1.4" />
<path d="M1067.6,977.29 Q1077.01,998.1 1089.63,1017.14 Q1080.22,996.33 1067.6,977.29Z" stroke-width="1.4" fill="none" />
<path d="M1074.05,972.49 Q1076.93,983.62 1084.84,991.94 Q1081.97,980.82 1074.05,972.49Z" stroke-width="1.4" fill="none" />
<path d="M1081.02,967.25 Q1096.76,999.83 1116.3,1030.28 Q1100.56,997.7 1081.02,967.25Z" stroke-width="1.4" fill="none" />
<path d="M1090.86,959.71 Q1105.11,989.1 1123.16,1016.33 Q1108.91,986.94 1090.86,959.71Z" stroke-width="1.4" fill="none" />
<path d="M1106.3,955.23 Q1109.65,967.49 1118.07,977.02 Q1114.72,964.75 1106.3,955.23Z" stroke-width="1.4" fill="none" />
<path d="M1118.68,948.26 Q1127.25,972.9 1143.61,993.22 Q1135.04,968.58 1118.68,948.26Z" stroke-width="1.4" fill="none" />
<path d="M1127.24,979.85 Q1137.19,1016.18 1156.61,1048.45 Q1146.66,1012.12 1127.24,979.85Z" stroke-width="1.4" fill="none" />
<path d="M1089.59,1004.08 Q1105.61,1035.64 1125.4,1065 Q1109.38,1033.43 1089.59,1004.08Z" stroke-width="1.4" fill="none" />
<line x1="1091.48" y1="1021.3" x2="1119.65" y2="1070.92" stroke-width="1.4" />
<path d="M1120.14,1030.31 Q1125.63,1047.46 1137.09,1061.35 Q1131.61,1044.2 1120.14,1030.31Z" stroke-width="1.4" fill="none" />
<path d="M1125.73,941.19 Q1147.42,987.52 1172.97,1031.84 Q1151.29,985.51 1125.73,941.19Z" stroke-width="1.4" fill="none" />
<path d="M1134.11,938.72 Q1143.02,960.37 1155.79,979.98 Q1146.88,958.33 1134.11,938.72Z" stroke-width="1.4" fill="none" />
<line x1="1141.17" y1="936.71" x2="1150.57" y2="955.74" stroke-width="1.4" />
<line x1="1153.38" y1="961.28" x2="1185.35" y2="1022.69" stroke-width="1.4" />
<path d="M1158.08,985.09 Q1167.79,1008.96 1181.09,1031.03 Q1171.38,1007.16 1158.08,985.09Z" stroke-width="1.4" fill="none" />
<path d="M1147.92,1002.48 Q1152.28,1020.19 1164.25,1033.96 Q1159.88,1016.25 1147.92,1002.48Z" stroke-width="1.4" fill="none" />
<path d="M1132.18,1025.87 Q1137.15,1041.79 1148.07,1054.4 Q1143.1,1038.48 1132.18,1025.87Z" stroke-width="1.4" fill="none" />
<polygon points="1136.7,1084.6 1182.2,1058.1 1180.8,1067.9 1146.9,1087.8" stroke-width="1.6" fill="#fff" />
<line x1="1138.5" y1="1085.5" x2="1181.3" y2="1060.5" stroke-width="1.3" />
<polyline points="1146.9,1087.8 1151.6,1096.7 1185,1077.2 1180.8,1067.9" stroke-width="1.6" fill="none" />
<line x1="1149.5" y1="1086.3" x2="1178.5" y2="1069.6" stroke-width="1.8" />
<path d="M1150.19,1085.9 L1152.81,1087.86 L1152.44,1084.61 Z" stroke-width="1.0" fill="#000" stroke-linejoin="round"/>
<path d="M1153.81,1083.82 L1156.43,1085.77 L1156.06,1082.52 Z" stroke-width="1.0" fill="#000" stroke-linejoin="round"/>
<path d="M1157.44,1081.73 L1160.06,1083.68 L1159.69,1080.43 Z" stroke-width="1.0" fill="#000" stroke-linejoin="round"/>
<path d="M1161.06,1079.64 L1163.68,1081.59 L1163.31,1078.35 Z" stroke-width="1.0" fill="#000" stroke-linejoin="round"/>
<path d="M1164.69,1077.55 L1167.31,1079.51 L1166.94,1076.26 Z" stroke-width="1.0" fill="#000" stroke-linejoin="round"/>
<path d="M1168.31,1075.47 L1170.93,1077.42 L1170.56,1074.17 Z" stroke-width="1.0" fill="#000" stroke-linejoin="round"/>
<path d="M1171.94,1073.38 L1174.56,1075.33 L1174.19,1072.08 Z" stroke-width="1.0" fill="#000" stroke-linejoin="round"/>
<path d="M1175.56,1071.29 L1178.18,1073.24 L1177.81,1070 Z" stroke-width="1.0" fill="#000" stroke-linejoin="round"/>
<path d="M1177.6,1126.8 C1178.3,1131 1178,1135 1178,1139.8 A20,20 0 1 0 1203.2,1120.5 L1199.4,1115.7" stroke-width="1.8" fill="none" />
<polygon points="1171.1,1112.4 1193.9,1099.92 1201.58,1113.95 1178.78,1126.43" stroke-width="1.4" fill="#fff" />
<line x1="1171.95" y1="1113.96" x2="1194.76" y2="1101.48" stroke-width="1.0" />
<line x1="1172.81" y1="1115.52" x2="1195.61" y2="1103.04" stroke-width="1.0" />
<line x1="1173.66" y1="1117.08" x2="1196.46" y2="1104.6" stroke-width="1.0" />
<line x1="1174.51" y1="1118.64" x2="1197.32" y2="1106.16" stroke-width="1.0" />
<line x1="1175.37" y1="1120.2" x2="1198.17" y2="1107.72" stroke-width="1.0" />
<line x1="1176.22" y1="1121.75" x2="1199.02" y2="1109.27" stroke-width="1.0" />
<line x1="1177.07" y1="1123.31" x2="1199.88" y2="1110.83" stroke-width="1.0" />
<line x1="1177.93" y1="1124.87" x2="1200.73" y2="1112.39" stroke-width="1.0" />
<path d="M1172.85,1111.44 Q1179.14,1100.02 1192.15,1100.88" stroke-width="2.2" fill="#000" />
<path d="M1186.5,1127 L1185.5,1139 L1197.5,1150 L1199,1144 L1206,1145 L1204,1130 L1196,1126" stroke-width="1.3" fill="none" />
<circle cx="1250.3" cy="944" r="17.9" stroke-width="1.4" fill="none" />
<g transform="translate(1250.30,944.50) rotate(-12) scale(0.3214,0.3214) translate(-27.50,34.00)"><text x="0" y="0" font-family="Liberation Sans" font-size="100" font-weight="normal" stroke="#000" stroke-width="4.356" fill="#000">5</text></g>
<circle cx="1310" cy="1077.9" r="17.9" stroke-width="1.4" fill="none" />
<g transform="translate(1310.00,1078.40) rotate(-12) scale(0.3169,0.3169) translate(-28.00,34.50)"><text x="0" y="0" font-family="Liberation Sans" font-size="100" font-weight="normal" stroke="#000" stroke-width="4.418" fill="#000">6</text></g>
<g transform="translate(1202.1,967.1) rotate(-25)">
<polyline points="10.78,-8.16 13.25,-7.69 15.56,-7.13 17.68,-6.48 19.59,-5.76 21.26,-4.97 22.68,-4.11 23.82,-3.21 24.68,-2.27 25.23,-1.3 25.48,-0.31 25.43,0.67 25.06,1.66 24.4,2.62 23.44,3.55 22.19,4.43 20.68,5.26 18.92,6.03 16.93,6.73 14.74,7.35 12.36,7.87 9.84,8.3 7.2,8.63 4.47,8.86 1.69,8.98 -1.11,8.99 -3.9,8.89 -6.64,8.69 -9.3,8.38 -11.85,7.97 -14.26,7.46 -16.49,6.86 -18.53,6.18 -20.34,5.43 -21.9,4.61 -23.2,3.73 -24.22,2.81 -24.95,1.86 -25.38,0.88 -25.5,-0.11 -25.31,-1.1 -24.82,-2.07 -24.02,-3.02 -22.94,-3.93 -21.58,-4.8 -19.96,-5.6 -18.09,-6.34 -16.01,-7 -13.74,-7.58 -11.3,-8.07 -8.72,-8.46" stroke-width="1.4" fill="none" />
<path d="M15.57,-9.57 L10.78,-8.16 L14.87,-5.28" stroke-width="1.4" fill="none" />
</g>
<line x1="1206.4" y1="972.1" x2="1190.5" y2="941.2" stroke-width="1.4" />
<path d="M1195.29,944.81 L1190.5,941.2 L1190.65,947.2" stroke-width="1.4" fill="none" />
<g transform="translate(1256.9,1112.4) rotate(-25)">
<polyline points="10.78,-8.16 13.25,-7.69 15.56,-7.13 17.68,-6.48 19.59,-5.76 21.26,-4.97 22.68,-4.11 23.82,-3.21 24.68,-2.27 25.23,-1.3 25.48,-0.31 25.43,0.67 25.06,1.66 24.4,2.62 23.44,3.55 22.19,4.43 20.68,5.26 18.92,6.03 16.93,6.73 14.74,7.35 12.36,7.87 9.84,8.3 7.2,8.63 4.47,8.86 1.69,8.98 -1.11,8.99 -3.9,8.89 -6.64,8.69 -9.3,8.38 -11.85,7.97 -14.26,7.46 -16.49,6.86 -18.53,6.18 -20.34,5.43 -21.9,4.61 -23.2,3.73 -24.22,2.81 -24.95,1.86 -25.38,0.88 -25.5,-0.11 -25.31,-1.1 -24.82,-2.07 -24.02,-3.02 -22.94,-3.93 -21.58,-4.8 -19.96,-5.6 -18.09,-6.34 -16.01,-7 -13.74,-7.58 -11.3,-8.07 -8.72,-8.46" stroke-width="1.4" fill="none" />
<path d="M15.57,-9.57 L10.78,-8.16 L14.87,-5.28" stroke-width="1.4" fill="none" />
</g>
<line x1="1261.2" y1="1117.4" x2="1245.3" y2="1086.5" stroke-width="1.4" />
<path d="M1250.09,1090.11 L1245.3,1086.5 L1245.45,1092.5" stroke-width="1.4" fill="none" />
<polyline points="1392.8,698.6 1344.4,615.5 1491,530.2 1539.6,613.4" stroke-width="1.6" fill="none" />
<g transform="translate(1412.10,558.20) rotate(-30) scale(0.2254,0.2254) translate(-56.00,34.50)"><text x="0" y="0" font-family="Liberation Sans" font-size="100" font-weight="normal" stroke="#000" stroke-width="3.994" fill="#000">95</text></g>
<line x1="1392.8" y1="698.6" x2="1539.6" y2="613.4" stroke-width="1.1" />
<polyline points="1392.8,698.6 1392.8,721.1 1412.2,730.8" stroke-width="1.4" fill="none" />
<line x1="1392.8" y1="698.6" x2="1412.2" y2="710.8" stroke-width="1.1" />
<line x1="1412.2" y1="710.8" x2="1412.2" y2="730.8" stroke-width="2.2" />
<circle cx="1402.5" cy="716.9" r="4.3" stroke-width="1.0" fill="none" />
<line x1="1412.2" y1="710.8" x2="1557.9" y2="626.3" stroke-width="1.0" />
<line x1="1412.2" y1="714.2" x2="1557.9" y2="629.7" stroke-width="1.0" />
<line x1="1412.2" y1="712.5" x2="1557.9" y2="628" stroke-width="1.6" stroke-dasharray="1 1" stroke="#555"/>
<polyline points="1539.6,613.4 1557.9,623.6 1557.9,645.3 1543.6,637.2" stroke-width="1.1" fill="none" />
<ellipse cx="1435.1" cy="686" rx="5.5" ry="2.8" transform="rotate(30 1435.1 686)" stroke-width="1.8"/>
<ellipse cx="1518.5" cy="636.5" rx="5.5" ry="2.8" transform="rotate(30 1518.5 636.5)" stroke-width="1.8"/>
<ellipse cx="1459.5" cy="672.5" rx="5.8" ry="3.8" transform="rotate(-10 1459.5 672.5)" stroke-width="0.9"/>
<ellipse cx="1479.2" cy="660.3" rx="9.5" ry="4.6" transform="rotate(-25 1479.2 660.3)" stroke-width="0.9"/>
<ellipse cx="1479.2" cy="661.3" rx="8" ry="3.2" transform="rotate(-25 1479.2 661.3)" stroke-width="0.7"/>
<line x1="1402.5" y1="716.9" x2="1386.1" y2="724.8" stroke-width="1.4" />
<line x1="1386.1" y1="724.8" x2="1361.2" y2="738.1" stroke-width="8" stroke="#000"/>
<line x1="1386.1" y1="724.8" x2="1361.2" y2="738.1" stroke-width="6" stroke="#fff"/>
<line x1="1386.1" y1="724.8" x2="1361.2" y2="738.1" stroke-width="6" stroke="#888" stroke-dasharray="0.8 1.2"/>
<line x1="1353.4" y1="732.6" x2="1364.9" y2="747.8" stroke-width="5.2" stroke="#000"/>
<line x1="1557.2" y1="623.6" x2="1566" y2="618.2" stroke-width="1.4" />
<line x1="1566" y1="618.2" x2="1586.4" y2="601.9" stroke-width="8" stroke="#000"/>
<line x1="1566" y1="618.2" x2="1586.4" y2="601.9" stroke-width="6" stroke="#fff"/>
<line x1="1566" y1="618.2" x2="1586.4" y2="601.9" stroke-width="6" stroke="#888" stroke-dasharray="0.8 1.2"/>
<line x1="1582.3" y1="593.8" x2="1595.9" y2="607.3" stroke-width="5.2" stroke="#000"/>
<path d="M1431.1,629.55 V594.3 Q1431.1,588.3 1437.1,588.3 Q1443.1,588.3 1443.1,594.3 V629.55" stroke-width="1.5" fill="none" />
<path d="M1431.1,595.3 l-1.8,2.2 l1.8,2.2" stroke-width="1.1" fill="none" />
<path d="M1443.1,595.3 l1.8,2.2 l-1.8,2.2" stroke-width="1.1" fill="none" />
<path d="M1431.1,601.75 l-1.8,2.2 l1.8,2.2" stroke-width="1.1" fill="none" />
<path d="M1443.1,601.75 l1.8,2.2 l-1.8,2.2" stroke-width="1.1" fill="none" />
<path d="M1431.1,608.2 l-1.8,2.2 l1.8,2.2" stroke-width="1.1" fill="none" />
<path d="M1443.1,608.2 l1.8,2.2 l-1.8,2.2" stroke-width="1.1" fill="none" />
<path d="M1431.1,614.65 l-1.8,2.2 l1.8,2.2" stroke-width="1.1" fill="none" />
<path d="M1443.1,614.65 l1.8,2.2 l-1.8,2.2" stroke-width="1.1" fill="none" />
<path d="M1431.1,621.1 l-1.8,2.2 l1.8,2.2" stroke-width="1.1" fill="none" />
<path d="M1443.1,621.1 l1.8,2.2 l-1.8,2.2" stroke-width="1.1" fill="none" />
<line x1="1437.1" y1="590.3" x2="1437.1" y2="635.55" stroke-width="2.0" />
<path d="M1431.1,624.55 L1428.1,631.55 H1433.1" stroke-width="1.4" fill="none" />
<path d="M1443.1,624.55 L1446.1,631.55 H1441.1" stroke-width="1.4" fill="none" />
<path d="M1431.1,631.55 V648.8 M1443.1,631.55 V648.8" stroke-width="1.5" fill="none" />
<line x1="1437.1" y1="638.8" x2="1437.1" y2="650.8" stroke-width="1.3" />
<ellipse cx="1437.1" cy="649.3" rx="7" ry="2.2" stroke-width="2.4" fill="none" />
<path d="M1512.5,583.38 V548.2 Q1512.5,542.2 1518.5,542.2 Q1524.5,542.2 1524.5,548.2 V583.38" stroke-width="1.5" fill="none" />
<path d="M1512.5,549.2 l-1.8,2.2 l1.8,2.2" stroke-width="1.1" fill="none" />
<path d="M1524.5,549.2 l1.8,2.2 l-1.8,2.2" stroke-width="1.1" fill="none" />
<path d="M1512.5,555.64 l-1.8,2.2 l1.8,2.2" stroke-width="1.1" fill="none" />
<path d="M1524.5,555.64 l1.8,2.2 l-1.8,2.2" stroke-width="1.1" fill="none" />
<path d="M1512.5,562.07 l-1.8,2.2 l1.8,2.2" stroke-width="1.1" fill="none" />
<path d="M1524.5,562.07 l1.8,2.2 l-1.8,2.2" stroke-width="1.1" fill="none" />
<path d="M1512.5,568.51 l-1.8,2.2 l1.8,2.2" stroke-width="1.1" fill="none" />
<path d="M1524.5,568.51 l1.8,2.2 l-1.8,2.2" stroke-width="1.1" fill="none" />
<path d="M1512.5,574.95 l-1.8,2.2 l1.8,2.2" stroke-width="1.1" fill="none" />
<path d="M1524.5,574.95 l1.8,2.2 l-1.8,2.2" stroke-width="1.1" fill="none" />
<line x1="1518.5" y1="544.2" x2="1518.5" y2="589.38" stroke-width="2.0" />
<path d="M1512.5,578.38 L1509.5,585.38 H1514.5" stroke-width="1.4" fill="none" />
<path d="M1524.5,578.38 L1527.5,585.38 H1522.5" stroke-width="1.4" fill="none" />
<path d="M1512.5,585.38 V602.6 M1524.5,585.38 V602.6" stroke-width="1.5" fill="none" />
<line x1="1518.5" y1="592.6" x2="1518.5" y2="604.6" stroke-width="1.3" />
<ellipse cx="1518.5" cy="603.1" rx="7" ry="2.2" stroke-width="2.4" fill="none" />
<line x1="1437.1" y1="650.8" x2="1437.1" y2="701.6" stroke-width="1.3" />
<line x1="1518.5" y1="604.6" x2="1518.5" y2="658" stroke-width="1.3" />
<path d="M1437.1,701.6 Q1440.3,703.6 1440.3,709.6 L1439.7,734.5 H1434.5 L1433.9,709.6 Q1433.9,703.6 1437.1,701.6 Z" stroke-width="1.0" fill="#000" />
<ellipse cx="1437.1" cy="737.5" rx="5.8" ry="3.2" stroke-width="2.2" fill="none" />
<line x1="1431.6" y1="736.5" x2="1442.6" y2="736.5" stroke-width="1.5" />
<path d="M1518.5,657.5 Q1521.7,659.5 1521.7,665.5 L1521.1,690.2 H1515.9 L1515.3,665.5 Q1515.3,659.5 1518.5,657.5 Z" stroke-width="1.0" fill="#000" />
<ellipse cx="1518.5" cy="693.2" rx="5.8" ry="3.2" stroke-width="2.2" fill="none" />
<line x1="1513" y1="692.2" x2="1524" y2="692.2" stroke-width="1.5" />
<line x1="1518.5" y1="696.2" x2="1518.5" y2="780.5" stroke-width="1.3" />
<g transform="translate(3037.6,0) scale(-1,1)">
<polyline points="1526.78,808.22 1530.2,808.66 1533.37,809.24 1536.25,809.94 1538.78,810.77 1540.89,811.7 1542.56,812.71 1543.75,813.78 1544.43,814.89 1544.59,816.01 1544.23,817.14 1543.36,818.24 1541.98,819.29 1540.14,820.26 1537.86,821.16 1535.2,821.94 1532.2,822.6 1528.93,823.13 1525.44,823.51 1521.82,823.73 1518.12,823.8 1514.44,823.71 1510.83,823.46 1507.37,823.06 1504.13,822.51 1501.18,821.83 1498.57,821.03 1496.36,820.12 1494.58,819.13 1493.28,818.08 1492.48,816.97 1492.2,815.85 1492.44,814.72 1493.2,813.61 1494.46,812.55 1496.2,811.55 1498.38,810.64 1500.95,809.83 1503.88,809.14 1507.1,808.58 1510.54,808.17" stroke-width="1.5" fill="none" />
<path d="M1506.81,809.71 L1511.04,808.17 L1507.2,805.82" stroke-width="1.5" fill="none" />
<line x1="1516.9" y1="822.8" x2="1516.9" y2="788.8" stroke-width="1.5" />
<path d="M1519.29,793.75 L1516.9,788.8 L1514.51,793.75" stroke-width="1.5" fill="none" />
</g>
<circle cx="1564.7" cy="817.7" r="15.6" stroke-width="1.4" fill="none" />
<polygon points="1568.2,808.2 1568.2,827.8 1564,827.8 1564,814.08 1558.5,816.43 1558.5,813.69 1563.45,808.59" stroke-width="0.6" fill="#000" />
<text x="0" y="0" font-family="Liberation Sans" font-size="100" font-weight="normal" stroke="#000" stroke-width="3.012" fill="#000" transform="matrix(0.2206,0,0,0.2324,1442.43,861.37)">100</text>
<path d="M1365.9,866.3 V925.2 Q1365.9,928.2 1368.9,928.2 H1560.5 Q1563.5,928.2 1563.5,925.2 V866.3" stroke-width="1.7" fill="none" />
<line x1="1365.9" y1="866.3" x2="1563.5" y2="866.3" stroke-width="1.4" />
<line x1="1365.9" y1="896.1" x2="1563.5" y2="896.1" stroke-width="1.9" />
<line x1="1365.9" y1="905.6" x2="1376" y2="905.6" stroke-width="1.4" />
<line x1="1552.9" y1="905.6" x2="1563.5" y2="905.6" stroke-width="1.4" />
<line x1="1347.5" y1="905.6" x2="1365.9" y2="905.6" stroke-width="1.4" />
<line x1="1563.5" y1="905.6" x2="1581.8" y2="905.6" stroke-width="1.4" />
<path d="M1322,899.8 A5.8,5.8 0 0 0 1322,911.4 Z" stroke-width="1.2" fill="none" />
<rect x="1322.5" y="901" width="25" height="9.2" rx="0" stroke-width="1.0" fill="#000" />
<line x1="1325" y1="901" x2="1325" y2="910.2" stroke-width="0.8" stroke="#fff"/>
<line x1="1327.69" y1="901" x2="1327.69" y2="910.2" stroke-width="0.8" stroke="#fff"/>
<line x1="1330.38" y1="901" x2="1330.38" y2="910.2" stroke-width="0.8" stroke="#fff"/>
<line x1="1333.06" y1="901" x2="1333.06" y2="910.2" stroke-width="0.8" stroke="#fff"/>
<line x1="1335.75" y1="901" x2="1335.75" y2="910.2" stroke-width="0.8" stroke="#fff"/>
<line x1="1338.44" y1="901" x2="1338.44" y2="910.2" stroke-width="0.8" stroke="#fff"/>
<line x1="1341.12" y1="901" x2="1341.12" y2="910.2" stroke-width="0.8" stroke="#fff"/>
<line x1="1343.81" y1="901" x2="1343.81" y2="910.2" stroke-width="0.8" stroke="#fff"/>
<path d="M1607.5,899.8 A5.8,5.8 0 0 1 1607.5,911.4 Z" stroke-width="1.2" fill="none" />
<rect x="1581.8" y="901" width="25.2" height="9.2" rx="0" stroke-width="1.0" fill="#000" />
<line x1="1583.8" y1="901" x2="1583.8" y2="910.2" stroke-width="0.8" stroke="#fff"/>
<line x1="1586.83" y1="901" x2="1586.83" y2="910.2" stroke-width="0.8" stroke="#fff"/>
<line x1="1589.85" y1="901" x2="1589.85" y2="910.2" stroke-width="0.8" stroke="#fff"/>
<line x1="1592.88" y1="901" x2="1592.88" y2="910.2" stroke-width="0.8" stroke="#fff"/>
<line x1="1595.9" y1="901" x2="1595.9" y2="910.2" stroke-width="0.8" stroke="#fff"/>
<line x1="1598.92" y1="901" x2="1598.92" y2="910.2" stroke-width="0.8" stroke="#fff"/>
<line x1="1601.95" y1="901" x2="1601.95" y2="910.2" stroke-width="0.8" stroke="#fff"/>
<line x1="1604.97" y1="901" x2="1604.97" y2="910.2" stroke-width="0.8" stroke="#fff"/>
<line x1="1657.5" y1="906.4" x2="1613.6" y2="906.4" stroke-width="1.5" />
<path d="M1619,903.79 L1613.6,906.4 L1619,909.01" stroke-width="1.5" fill="none" />
<path d="M1628.8,912.9 C1629,922 1631.5,928.2 1635,928.2 C1638.5,928.2 1641.2,918 1641.2,907.3 C1641.2,896 1638.5,886.4 1635,886.4 C1631.5,886.4 1629,892 1628.6,899.3" stroke-width="1.5" fill="none" />
<path d="M1626.64,895.95 L1628.6,900 L1630.56,895.95" stroke-width="1.4" fill="none" />
<circle cx="1637.5" cy="951.4" r="14.3" stroke-width="1.4" fill="none" />
<text x="0" y="0" font-family="Liberation Sans" font-size="100" font-weight="bold" stroke="#000" stroke-width="2.542" fill="#000" transform="matrix(0.2754,0,0,0.2754,1629.65,960.90)">4</text>
</svg></body></html>
